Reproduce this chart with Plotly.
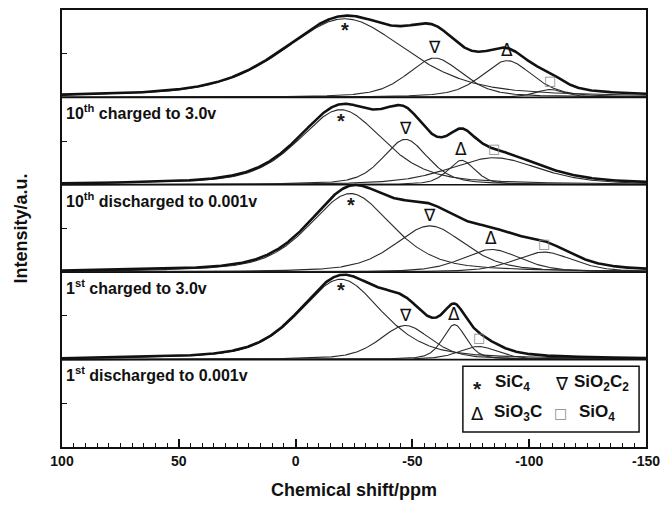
import numpy as np
import plotly.graph_objects as go

# ---- chart data -----------------------------------------------------------
ppm_ticks = [100, 50, 0, -50, -100, -150]
ppm_tick_text = ["100", "50", "0", "-50", "-100", "-150"]

# stacked spectra, top to bottom (vertical offset of each baseline)
spectrum_offsets = [4, 3, 2, 1]
spectrum_labels = [
    "10<sup>th</sup> charged to 3.0v",
    "10<sup>th</sup> discharged to 0.001v",
    "1<sup>st</sup> charged to 3.0v",
    "1<sup>st</sup> discharged to 0.001v",
]

site_names = ["SiC<sub>4</sub>", "SiO<sub>2</sub>C<sub>2</sub>", "SiO<sub>3</sub>C", "SiO<sub>4</sub>"]
site_symbols = ["*", "\u2207", "\u0394", "\u25a1"]

# fitted components (centre / ppm, height / a.u., FWHM / ppm), one entry per spectrum
sic4_center = [-21.0, -19.3, -23.5, -19.3]
sic4_height = [0.90, 0.86, 0.90, 0.92]
sic4_fwhm = [63, 43, 42, 42]

sio2c2_center = [-59.6, -47.0, -57.5, -47.0]
sio2c2_height = [0.45, 0.52, 0.53, 0.39]
sio2c2_fwhm = [28, 23, 36, 26]

sio3c_center = [-90.6, -71.0, -83.8, -68.0]
sio3c_height = [0.42, 0.28, 0.26, 0.40]
sio3c_fwhm = [26, 14, 30, 12]

sio4_center = [-109.0, -85.0, -106.3, -78.3]
sio4_height = [0.09, 0.31, 0.23, 0.15]
sio4_fwhm = [15, 46, 30, 20]

lorentz_fraction = 0.5

# ---- helpers --------------------------------------------------------------
FONT = "Arial, Liberation Sans, Helvetica, sans-serif"
SYM_FONT = "DejaVu Sans, sans-serif"

PLOT_L, PLOT_R, PLOT_T, PLOT_B = 62, 652, 8, 447


def paper(xp, yp):
    """pixel position inside the page -> paper coordinates"""
    return (xp - PLOT_L) / (PLOT_R - PLOT_L), (PLOT_B - yp) / (PLOT_B - PLOT_T)


def pseudo_voigt(x, c, h, w, eta=lorentz_fraction):
    d = (x - c) / w
    return h * (eta / (1 + 4 * d ** 2) + (1 - eta) * np.exp(-4 * np.log(2) * d ** 2))


x = np.linspace(100, -150, 1251)

components = [
    (sic4_center, sic4_height, sic4_fwhm),
    (sio2c2_center, sio2c2_height, sio2c2_fwhm),
    (sio3c_center, sio3c_height, sio3c_fwhm),
    (sio4_center, sio4_height, sio4_fwhm),
]

fig = go.Figure()
annotations = []

# per-site marker styling
symbol_shift = [-11, 11, 11, 9]
symbol_size = [20, 17, 17, 13]
symbol_color = ["#1a1a1a", "#111", "#111", "#888"]
symbol_font = [FONT, SYM_FONT, SYM_FONT, SYM_FONT]


def symbol_text(k):
    return "<b>*</b>" if k == 0 else site_symbols[k]


for i, off in enumerate(spectrum_offsets):
    total = np.zeros_like(x)
    for k, (cen, hgt, fw) in enumerate(components):
        y = pseudo_voigt(x, cen[i], hgt[i], fw[i])
        total += y
        fig.add_trace(go.Scatter(x=x, y=y + off, mode="lines",
                                 line=dict(color="#2a2a2a", width=1.1),
                                 hoverinfo="skip", showlegend=False))
        annotations.append(dict(
            x=cen[i], y=off + hgt[i], xref="x", yref="y",
            text=symbol_text(k), showarrow=False, yanchor="middle",
            yshift=symbol_shift[k],
            font=dict(family=symbol_font[k], size=symbol_size[k], color=symbol_color[k])))
    # baseline
    fig.add_trace(go.Scatter(x=[100, -150], y=[off, off], mode="lines",
                             line=dict(color="#111", width=1.6),
                             hoverinfo="skip", showlegend=False))
    # measured spectrum / fit envelope
    fig.add_trace(go.Scatter(x=x, y=total + off, mode="lines",
                             line=dict(color="#111", width=2.6),
                             hoverinfo="skip", showlegend=False))
    annotations.append(dict(
        x=100, y=off - 0.17, xref="x", yref="y", xanchor="left", yanchor="middle",
        xshift=2, text="<b>" + spectrum_labels[i] + "</b>", showarrow=False,
        font=dict(family=FONT, size=16, color="#111")))

# axis titles
annotations.append(dict(x=0.5, y=0, xref="paper", yref="paper", yshift=-43,
                        yanchor="middle", xanchor="center", showarrow=False,
                        text="<b>Chemical shift/ppm</b>",
                        font=dict(family=FONT, size=18, color="#111")))
annotations.append(dict(x=0, y=0.5, xref="paper", yref="paper", xshift=-42,
                        xanchor="center", yanchor="middle", showarrow=False,
                        textangle=-90, text="<b>Intensity/a.u.</b>",
                        font=dict(family=FONT, size=18, color="#111")))

# key box for the structural sites
bx0, by0 = paper(467, 432)
bx1, by1 = paper(645, 366)
shapes = [dict(type="rect", xref="paper", yref="paper", x0=bx0, y0=by0, x1=bx1, y1=by1,
               line=dict(color="#111", width=1.5), fillcolor="white")]

key_layout = [  # (symbol centre px, text left px, row y px)
    (482, 497, 383),
    (567, 577, 383),
    (482, 496, 413),
    (566, 582, 413),
]
for k, (sx, tx, ty) in enumerate(key_layout):
    px_, py_ = paper(sx, ty)
    annotations.append(dict(x=px_, y=py_, xref="paper", yref="paper", xanchor="center",
                            yanchor="middle", showarrow=False, text=symbol_text(k),
                            yshift=-5 if k == 0 else 0,
                            font=dict(family=symbol_font[k], size=symbol_size[k] + 1,
                                      color=symbol_color[k])))
    px_, py_ = paper(tx, ty)
    annotations.append(dict(x=px_, y=py_, xref="paper", yref="paper", xanchor="left",
                            yanchor="middle", showarrow=False,
                            text="<b>" + site_names[k] + "</b>",
                            font=dict(family=FONT, size=17, color="#111")))

fig.update_layout(
    width=668, height=509,
    margin=dict(l=PLOT_L, r=668 - PLOT_R, t=PLOT_T, b=509 - PLOT_B),
    paper_bgcolor="white", plot_bgcolor="white",
    showlegend=False,
    annotations=annotations,
    shapes=shapes,
    xaxis=dict(range=[100, -150], tickvals=ppm_ticks, ticktext=ppm_tick_text,
               ticks="inside", ticklen=8,
               tickwidth=1.5, tickcolor="#111", showline=True, linewidth=2,
               linecolor="#111", mirror=True, showgrid=False, zeroline=False,
               minor=dict(tick0=0, dtick=5, ticks="inside", ticklen=4, tickwidth=1,
                          tickcolor="#111", showgrid=False),
               tickfont=dict(family=FONT, size=14, color="#111", weight="bold")),
    yaxis=dict(range=[0, 5], tickvals=[0.5, 1.5, 2.5, 3.5, 4.5], ticks="inside",
               ticklen=5, tickcolor="#111", showticklabels=False, showline=True,
               linewidth=2, linecolor="#111", mirror=True, showgrid=False,
               zeroline=False),
)

fig.write_html("out.html")
